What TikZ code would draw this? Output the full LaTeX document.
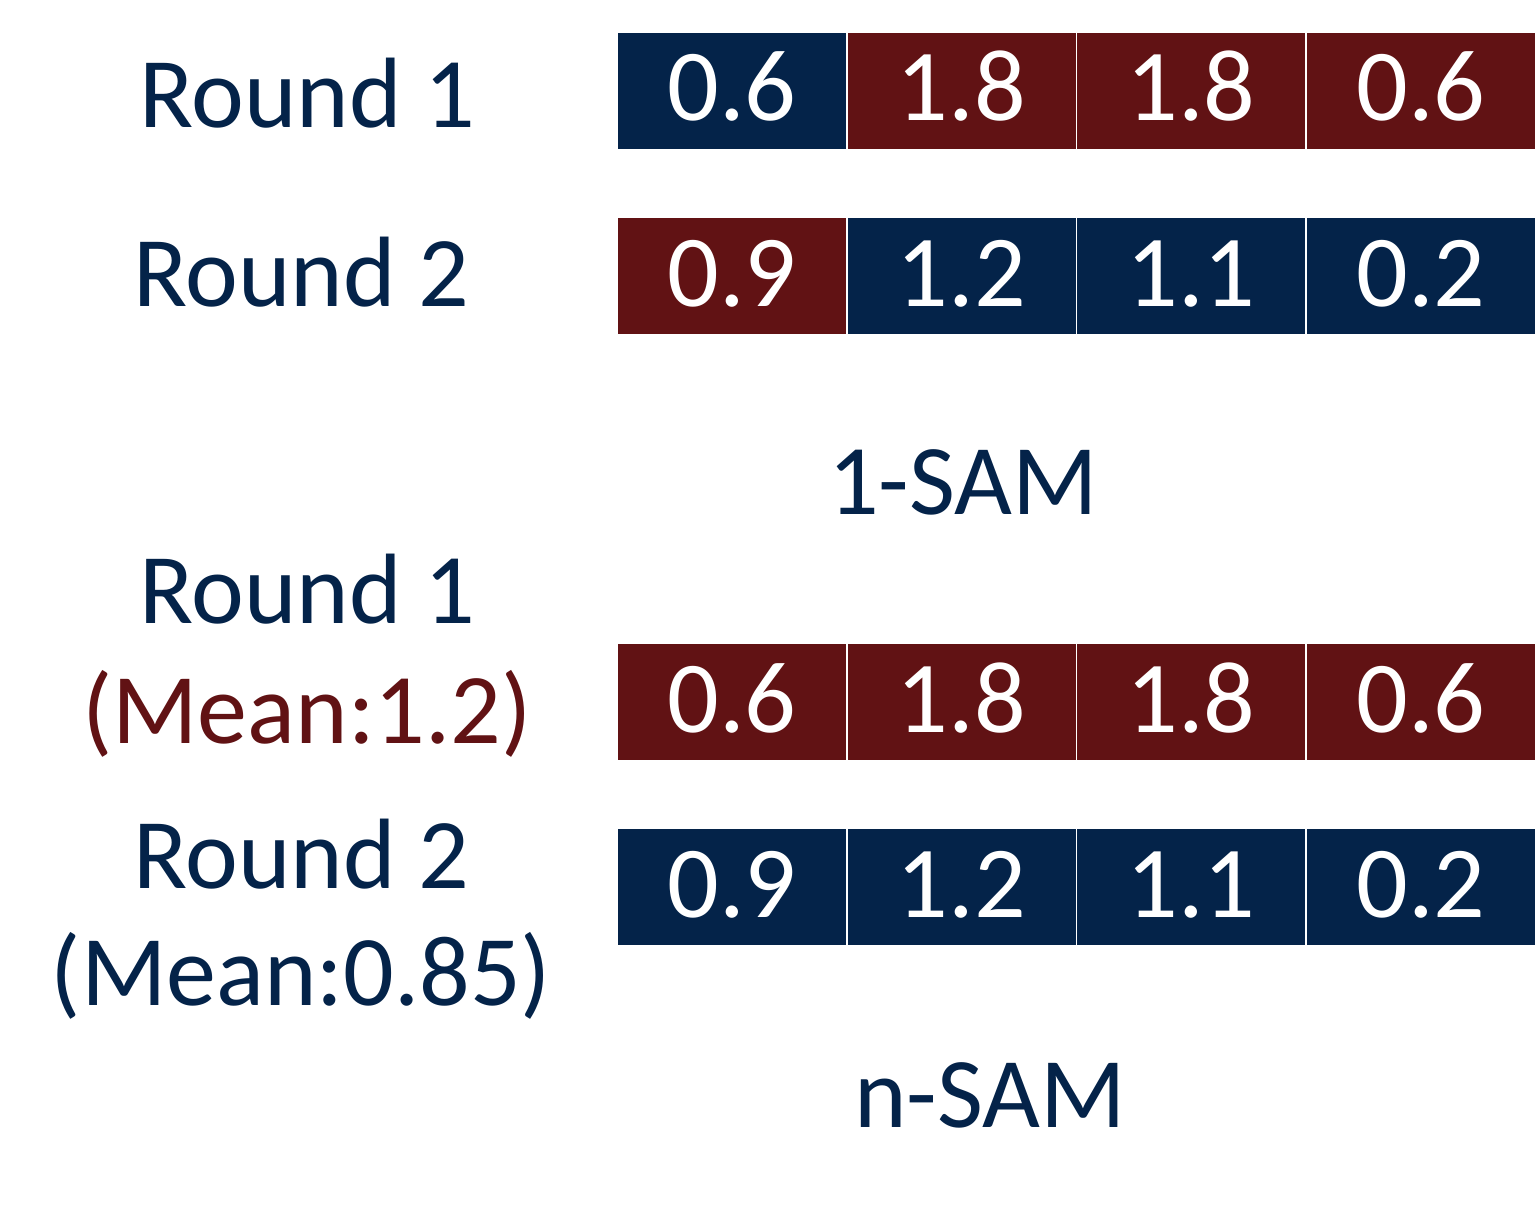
\documentclass[tikz,border=0pt]{standalone}
\usepackage{fontspec}
\setmainfont{Carlito}
\definecolor{navy}{RGB}{4,35,73}
\definecolor{wine}{RGB}{97,18,20}
\begin{document}
\begin{tikzpicture}[x=1pt,y=-1pt,
  cell/.style={minimum width=228pt,minimum height=116pt,inner sep=0pt,text=white,
    font=\fontsize{102}{102}\selectfont,text height=60pt,text depth=0pt},
  nv/.style={cell,fill=navy},
  wn/.style={cell,fill=wine},
  lbl/.style={anchor=base,inner sep=0pt,font=\fontsize{100}{100}\selectfont,text=navy}]
\useasboundingbox[fill=white] (0,0) rectangle (1538,1206);
% row 1
\node[nv] (a1) at (732,91) {0.6};
\node[wn] (a2) at (961.5,91) {1.8};
\node[wn] (a3) at (1191,91) {1.8};
\node[wn] (a4) at (1421,91) {0.6};
% row 2
\node[wn] (b1) at (732,276) {0.9};
\node[nv] (b2) at (961.5,276) {1.2};
\node[nv] (b3) at (1191,276) {1.1};
\node[nv] (b4) at (1421,276) {0.2};
% row 3
\node[wn] (c1) at (732,702) {0.6};
\node[wn] (c2) at (961.5,702) {1.8};
\node[wn] (c3) at (1191,702) {1.8};
\node[wn] (c4) at (1421,702) {0.6};
% row 4
\node[nv] (d1) at (732,887) {0.9};
\node[nv] (d2) at (961.5,887) {1.2};
\node[nv] (d3) at (1191,887) {1.1};
\node[nv] (d4) at (1421,887) {0.2};
% labels
\node[lbl] (r1) at (307,128) {Round 1};
\node[lbl] (r2) at (301,306) {Round 2};
\node[lbl] (s1) at (963,514) {1-SAM};
\node[lbl] (r3) at (307,623) {Round 1};
\node[lbl,text=wine] (m1) at (307,743) {(Mean:1.2)};
\node[lbl] (r4) at (301,888) {Round 2};
\node[lbl] (m2) at (301,1005) {(Mean:0.85)};
\node[lbl] (s2) at (990,1127) {n-SAM};
\end{tikzpicture}
\end{document}
